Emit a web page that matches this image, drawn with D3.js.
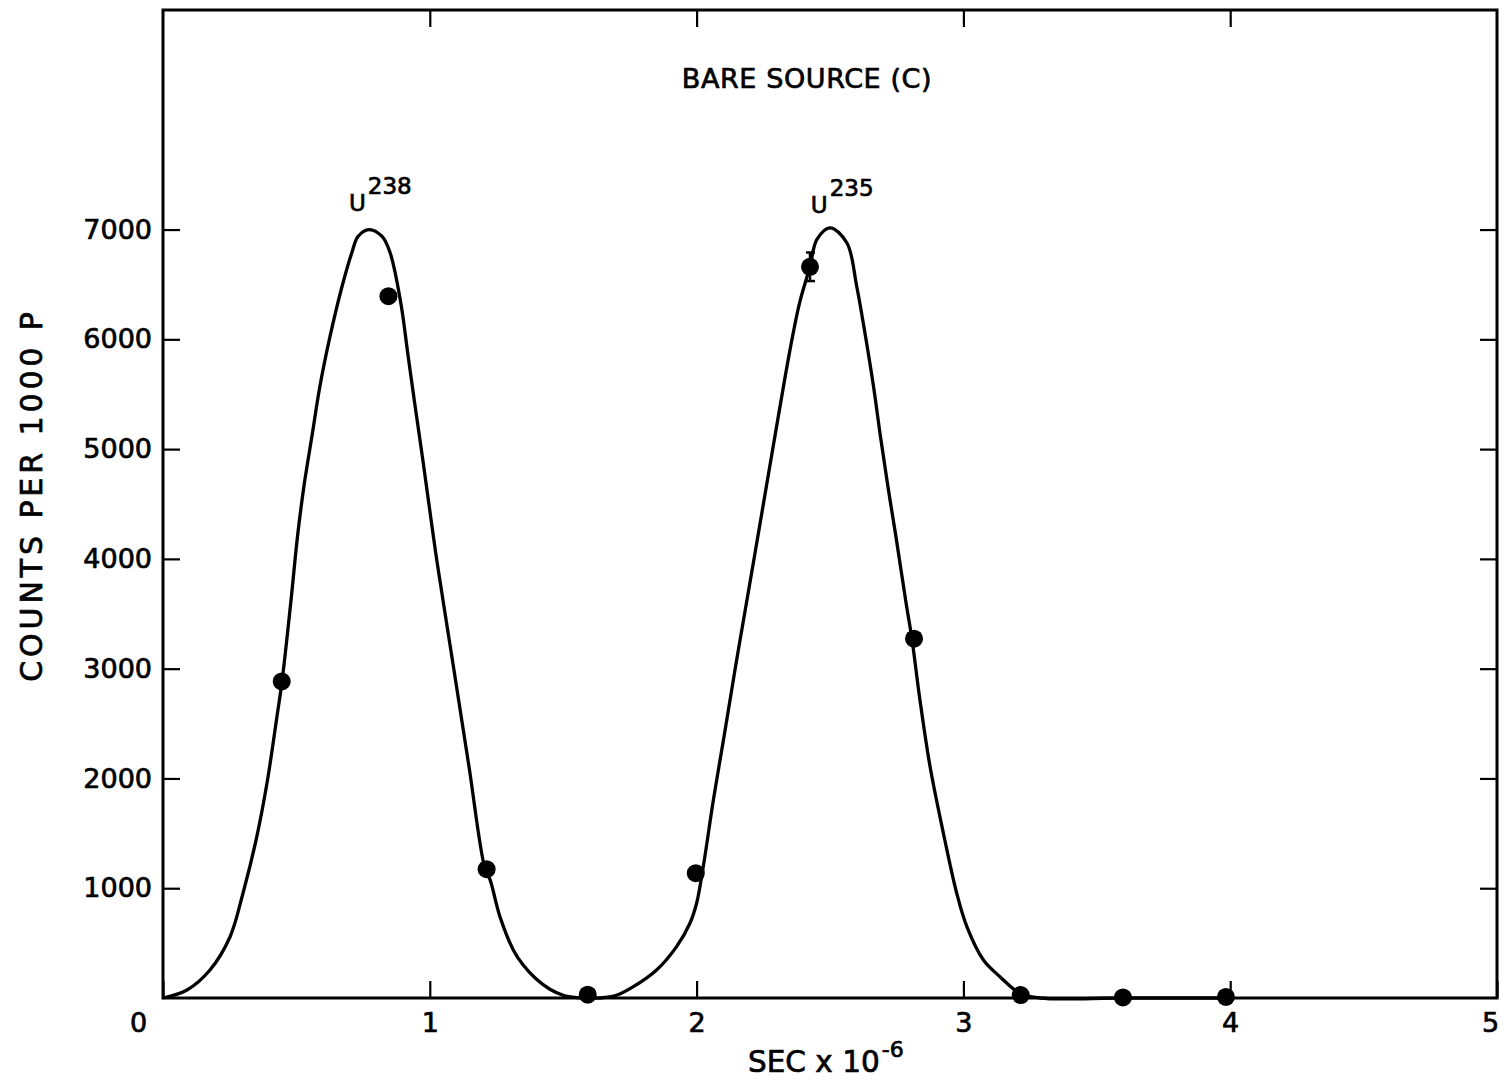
<!DOCTYPE html>
<html>
<head>
<meta charset="utf-8">
<script src="https://cdn.jsdelivr.net/npm/d3@7"></script>
<style>
  html, body { margin: 0; padding: 0; background: #fff; }
  svg { display: block; }
  text { font-family: "DejaVu Sans", "Liberation Sans", sans-serif; fill: #000; stroke: #000; stroke-width: 0.7px; }
</style>
</head>
<body>
<svg id="chart" width="1503" height="1082"></svg>
<script>
// Time of flight (microseconds) and counts per 1000 pulses
const xTicks = [0, 1, 2, 3, 4, 5];
const yTicks = [1000, 2000, 3000, 4000, 5000, 6000, 7000];

// Measured points
const pointX = [0.445, 0.845, 1.213, 1.592, 1.997, 2.425, 2.815, 3.215, 3.598, 3.984];
const pointY = [2884, 6393, 1173, 30, 1137, 6661, 3273, 27, 5, 10];
// Statistical error on the U235 peak point
const errIndex = 5;
const errHalf = 130;

// Hand-drawn curve through the U238 and U235 peaks
const curveX = [0.000, 0.090, 0.176, 0.251, 0.300, 0.349, 0.390, 0.427, 0.446, 0.480,
  0.504, 0.528, 0.558, 0.588, 0.626, 0.671, 0.708, 0.731, 0.772, 0.821, 0.851,
  0.891, 0.917, 0.943, 0.970, 0.996, 1.022, 1.051, 1.098, 1.147, 1.207, 1.226,
  1.263, 1.313, 1.350, 1.400, 1.450, 1.500, 1.550, 1.593, 1.638, 1.702, 1.763,
  1.850, 1.925, 1.975, 2.000, 2.025, 2.063, 2.105, 2.146, 2.187, 2.219, 2.251,
  2.283, 2.315, 2.348, 2.386, 2.425, 2.451, 2.500, 2.563, 2.600, 2.633, 2.663,
  2.689, 2.717, 2.747, 2.785, 2.807, 2.837, 2.875, 2.925, 2.975, 3.013, 3.075,
  3.137, 3.212, 3.287, 3.600, 3.984];
const curveY = [0, 73, 255, 556, 957, 1440, 1960, 2562, 2881, 3628,
  4202, 4658, 5114, 5570, 6026, 6481, 6791, 6937, 7000, 6937, 6791,
  6336, 5880, 5424, 4968, 4512, 4057, 3601, 2872, 2106, 1176, 1076,
  741, 438, 300, 170, 80, 25, 4, 0, 0, 27, 103,
  255, 468, 681, 863, 1197, 1805, 2413, 3020, 3601, 4054, 4510,
  4966, 5421, 5877, 6333, 6664, 6910, 7016, 6880, 6484, 6028, 5572,
  5117, 4661, 4205, 3601, 3273, 2717, 2108, 1501, 954, 650, 346,
  194, 43, 0, 0, 0];

// Isotope annotations (position in data units)
const isoNames = ["U", "U"];
const isoMass = ["238", "235"];
const isoX = [0.697, 2.428];
const isoY = [7165, 7155];

const svg = d3.select("#chart");
const margin = { left: 163, top: 10, right: 6, bottom: 84 };
const W = 1503 - margin.left - margin.right;
const H = 1082 - margin.top - margin.bottom;

const x = d3.scaleLinear().domain([0, 5]).range([0, W]);
const y = d3.scaleLinear().domain([0, 9000]).range([H, 0]);

const g = svg.append("g").attr("transform", `translate(${margin.left},${margin.top})`);

// Axes with inward ticks on all four sides
const tickLen = 17;
const axisB = g.append("g").attr("transform", `translate(0,${H})`)
  .call(d3.axisBottom(x).tickValues(xTicks).tickSize(-tickLen).tickPadding(15).tickFormat(d3.format("d")));
const axisT = g.append("g")
  .call(d3.axisTop(x).tickValues(xTicks.slice(1, -1)).tickSize(-tickLen).tickFormat(""));
const axisL = g.append("g")
  .call(d3.axisLeft(y).tickValues(yTicks).tickSize(-tickLen).tickPadding(11).tickFormat(d3.format("d")));
const axisR = g.append("g").attr("transform", `translate(${W},0)`)
  .call(d3.axisRight(y).tickValues(yTicks).tickSize(-tickLen).tickFormat(""));

[axisB, axisT, axisL, axisR].forEach(a => {
  a.select(".domain").remove();
  a.selectAll(".tick line").attr("stroke", "#000").attr("stroke-width", 2.2);
  a.selectAll("text").attr("font-size", 27).attr("font-family", "DejaVu Sans, sans-serif")
    .attr("fill", "#000").attr("stroke", "#000").attr("stroke-width", 0.7);
});
// Keep the zero and end labels clear of the frame corners
axisB.selectAll(".tick text").attr("dx", d => d === 0 ? -25 : (d === 5 ? -7 : 0));

// Frame
g.append("rect").attr("x", 0).attr("y", 0).attr("width", W).attr("height", H)
  .attr("fill", "none").attr("stroke", "#000").attr("stroke-width", 3);

// Curve
const pts = curveX.map((v, i) => [v, curveY[i]]);
g.append("path").datum(pts)
  .attr("fill", "none").attr("stroke", "#000").attr("stroke-width", 3.3)
  .attr("stroke-linejoin", "round")
  .attr("d", d3.line().x(d => x(d[0])).y(d => y(d[1])).curve(d3.curveCatmullRom.alpha(0.5)));

// Error bar
const ex = x(pointX[errIndex]);
const eTop = y(pointY[errIndex] + errHalf), eBot = y(pointY[errIndex] - errHalf);
g.append("line").attr("x1", ex).attr("x2", ex).attr("y1", eTop).attr("y2", eBot)
  .attr("stroke", "#000").attr("stroke-width", 2.5);
[eTop, eBot].forEach(yy => g.append("line")
  .attr("x1", ex - 4).attr("x2", ex + 5).attr("y1", yy).attr("y2", yy)
  .attr("stroke", "#000").attr("stroke-width", 2.5));

// Points
g.selectAll("circle.pt").data(pointX.map((v, i) => [v, pointY[i]]))
  .join("circle").attr("class", "pt")
  .attr("cx", d => x(d[0])).attr("cy", d => y(d[1])).attr("r", 9).attr("fill", "#000");

// Isotope labels
isoNames.forEach((n, i) => {
  const t = g.append("text").attr("x", x(isoX[i])).attr("y", y(isoY[i]))
    .attr("font-size", 23);
  t.append("tspan").text(n);
  t.append("tspan").attr("dx", 2).attr("dy", -17).text(isoMass[i]);
});

// Title
svg.append("text").attr("x", 807).attr("y", 88).attr("text-anchor", "middle")
  .attr("font-size", 27).attr("letter-spacing", 0.6).text("BARE SOURCE (C)");

// Axis titles
const xt = svg.append("text").attr("x", 748).attr("y", 1072).attr("font-size", 29.5);
xt.append("tspan").text("SEC x 10");
xt.append("tspan").attr("font-size", 22).attr("dy", -15).attr("dx", 2).text("-6");

svg.append("text").attr("transform", "translate(42,495) rotate(-90)")
  .attr("text-anchor", "middle").attr("font-size", 30).attr("letter-spacing", 3.9)
  .text("COUNTS PER 1000 P");
</script>
</body>
</html>
